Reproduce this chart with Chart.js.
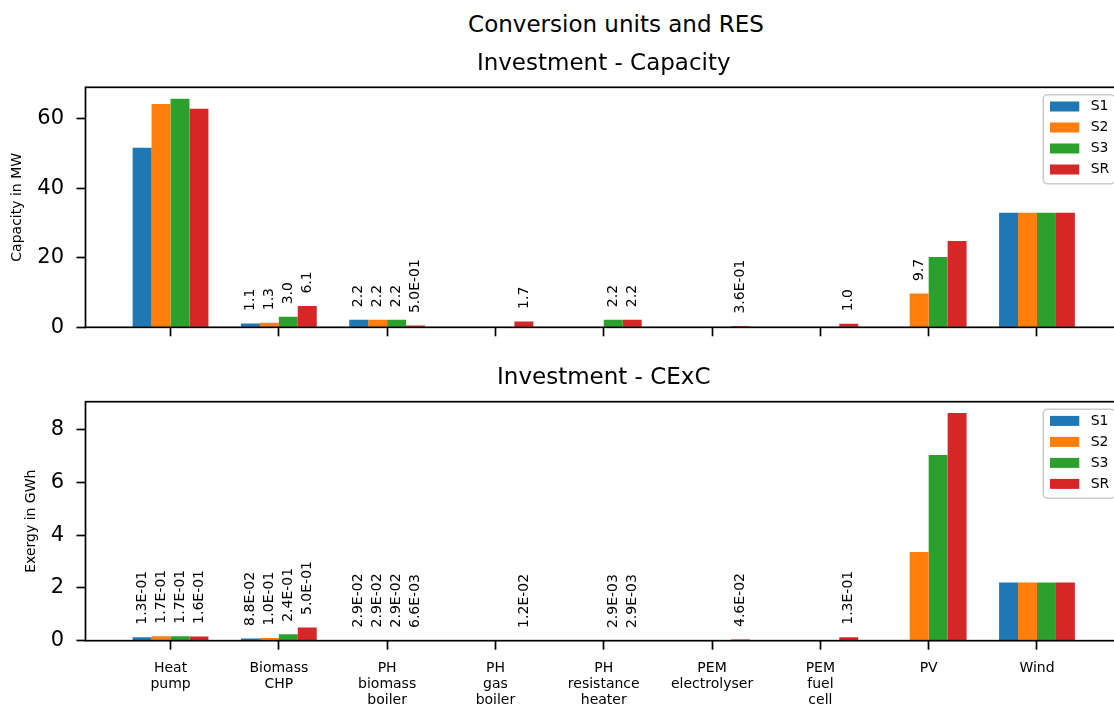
<!DOCTYPE html>
<html>
<head>
<meta charset="utf-8">
<title>Conversion units and RES</title>
<script src="https://cdn.jsdelivr.net/npm/chart.js@4.4.1/dist/chart.umd.min.js"></script>
<style>
  html, body { margin: 0; padding: 0; background: #fff; overflow: hidden; }
  #wrap { position: relative; width: 1114px; height: 705px; overflow: hidden; }
  #suptitle {
    position: absolute; left: 0; top: 10px; width: 1232px;
    text-align: center; font: 23px "DejaVu Sans"; line-height: 28px;
    color: #000; white-space: nowrap;
  }
  canvas { position: absolute; left: 0; }
</style>
</head>
<body>
<div id="wrap">
  <div id="suptitle">Conversion units and RES</div>
  <canvas id="capChart" width="1240" height="360" style="top:0"></canvas>
  <canvas id="excChart" width="1240" height="360" style="top:345px"></canvas>
</div>
<script>
// ===== DATA =====
const categories = [
  ["Heat", "pump"],
  ["Biomass", "CHP"],
  ["PH", "biomass", "boiler"],
  ["PH", "gas", "boiler"],
  ["PH", "resistance", "heater"],
  ["PEM", "electrolyser"],
  ["PEM", "fuel", "cell"],
  ["PV"],
  ["Wind"]
];
const scenarios = ["S1", "S2", "S3", "SR"];
const colors = ["#1f77b4", "#ff7f0e", "#2ca02c", "#d62728"];

// Investment - Capacity (MW)
const capS1 = [51.6, 1.1, 2.2, 0, 0, 0, 0, 0, 32.9];
const capS2 = [64.2, 1.3, 2.2, 0, 0, 0, 0, 9.7, 32.9];
const capS3 = [65.7, 3.0, 2.2, 0, 2.2, 0, 0, 20.2, 32.9];
const capSR = [62.8, 6.1, 0.5, 1.7, 2.2, 0.36, 1.0, 24.8, 32.9];

// Investment - CExC (GWh)
const excS1 = [0.13, 0.088, 0.029, 0, 0, 0, 0, 0, 2.2];
const excS2 = [0.17, 0.10, 0.029, 0, 0, 0, 0, 3.36, 2.2];
const excS3 = [0.17, 0.24, 0.029, 0, 0.0029, 0, 0, 7.03, 2.2];
const excSR = [0.16, 0.50, 0.0066, 0.012, 0.0029, 0.046, 0.13, 8.62, 2.2];

const capTicks = [0, 20, 40, 60];
const excTicks = [0, 2, 4, 6, 8];

// ===== LAYOUT =====
const FONT = "DejaVu Sans";
const CANVAS_W = 1240;
const AREA_LEFT = 85.5;
const AREA_RIGHT = 1122;

Chart.defaults.color = "#000";
Chart.defaults.font.family = FONT;

// label format like "1.1" or "5.0E-01"
function fmt(v) {
  if (v >= 1) return v.toFixed(1);
  const [m, e] = v.toExponential(1).split("e");
  const n = parseInt(e, 10);
  return m + "E" + (n < 0 ? "-" : "+") + String(Math.abs(n)).padStart(2, "0");
}

// frame, value labels, legend
const decorations = {
  id: "decorations",
  afterDatasetsDraw(chart) {
    const { ctx, chartArea: a } = chart;
    ctx.save();

    // values above the small bars
    let maxVal = 0;
    chart.data.datasets.forEach(ds => ds.data.forEach(p => { maxVal = Math.max(maxVal, p.y); }));
    const limit = 0.2 * maxVal;
    ctx.fillStyle = "#000";
    ctx.font = "14px '" + FONT + "'";
    ctx.textAlign = "left";
    ctx.textBaseline = "middle";
    chart.data.datasets.forEach((ds, di) => {
      const meta = chart.getDatasetMeta(di);
      meta.data.forEach((bar, i) => {
        const v = ds.data[i].y;
        if (!(v > 0 && v < limit)) return;
        ctx.save();
        ctx.translate(bar.x, bar.y - 12.5);
        ctx.rotate(-Math.PI / 2);
        ctx.fillText(fmt(v), 0, 0);
        ctx.restore();
      });
    });

    // axes frame
    ctx.strokeStyle = "#000";
    ctx.lineWidth = 1.7;
    ctx.strokeRect(a.left, a.top, a.right - a.left, a.bottom - a.top);

    // legend in upper right
    const w = 71.7, h = 89;
    const right = a.right - 7;
    const left = right - w;
    const top = a.top + 7.5;
    ctx.fillStyle = "rgba(255,255,255,0.8)";
    ctx.strokeStyle = "#cccccc";
    ctx.lineWidth = 1.6;
    ctx.beginPath();
    if (ctx.roundRect) ctx.roundRect(left, top, w, h, 4);
    else ctx.rect(left, top, w, h);
    ctx.fill();
    ctx.stroke();
    chart.data.datasets.forEach((ds, i) => {
      const cy = top + 11.7 + i * 21;
      ctx.fillStyle = ds.backgroundColor;
      ctx.fillRect(left + 6.7, cy - 5, 29.3, 10);
      ctx.fillStyle = "#000";
      ctx.font = "14px '" + FONT + "'";
      ctx.textBaseline = "middle";
      ctx.textAlign = "left";
      ctx.fillText(ds.label, left + 47.4, cy);
    });
    ctx.restore();
  }
};

function makeChart(id, series, cfg) {
  const datasets = series.map((vals, i) => ({
    label: scenarios[i],
    backgroundColor: colors[i],
    borderWidth: 0,
    data: vals.map((v, k) => ({ x: k, y: v }))
  }));
  const tickGrid = {
    display: true,
    offset: false,
    drawOnChartArea: false,
    drawTicks: true,
    tickLength: 9,
    tickWidth: 1.7,
    tickColor: "#000"
  };
  return new Chart(document.getElementById(id), {
    type: "bar",
    data: { datasets },
    plugins: [decorations],
    options: {
      responsive: false,
      animation: false,
      events: [],
      layout: {
        autoPadding: false,
        padding: { left: 0, right: CANVAS_W - AREA_RIGHT, top: 0, bottom: 0 }
      },
      datasets: { bar: { categoryPercentage: 0.7, barPercentage: 1.0 } },
      plugins: {
        legend: { display: false },
        tooltip: { enabled: false },
        title: {
          display: true,
          text: cfg.title,
          fullSize: false,
          color: "#000",
          font: { family: FONT, size: 23, weight: "normal", lineHeight: 1.2 },
          padding: { top: cfg.titleTop, bottom: cfg.titleBottom }
        }
      },
      scales: {
        x: {
          type: "linear",
          offset: false,
          min: -0.785,
          max: 8.785,
          afterBuildTicks: s => { s.ticks = categories.map((c, i) => ({ value: i })); },
          ticks: {
            display: cfg.showX,
            autoSkip: false,
            maxRotation: 0,
            padding: 10.6,
            font: { family: FONT, size: 14, lineHeight: 1.15 },
            callback: v => categories[v]
          },
          grid: tickGrid,
          border: { display: false },
          afterFit: s => { s.height = cfg.xHeight; }
        },
        y: {
          min: 0,
          max: cfg.yMax,
          afterBuildTicks: s => { s.ticks = cfg.yTicks.map(v => ({ value: v })); },
          ticks: { padding: 12.5, font: { family: FONT, size: 21 } },
          grid: tickGrid,
          border: { display: false },
          title: {
            display: true,
            text: cfg.yTitle,
            color: "#000",
            font: { family: FONT, size: 14 },
            padding: { top: cfg.yTitlePad, bottom: 0 }
          },
          afterFit: s => { s.width = AREA_LEFT; }
        }
      }
    }
  });
}

makeChart("capChart", [capS1, capS2, capS3, capSR], {
  title: "Investment - Capacity",
  titleTop: 50.2, titleBottom: 9.5,
  showX: false, xHeight: 32.7,
  yMax: 69.0, yTicks: capTicks,
  yTitle: "Capacity in MW", yTitlePad: 9
});

makeChart("excChart", [excS1, excS2, excS3, excSR], {
  title: "Investment - CExC",
  titleTop: 19.6, titleBottom: 9.5,
  showX: true, xHeight: 64.3,
  yMax: 9.05, yTicks: excTicks,
  yTitle: "Exergy in GWh", yTitlePad: 23.3
});
</script>
</body>
</html>
